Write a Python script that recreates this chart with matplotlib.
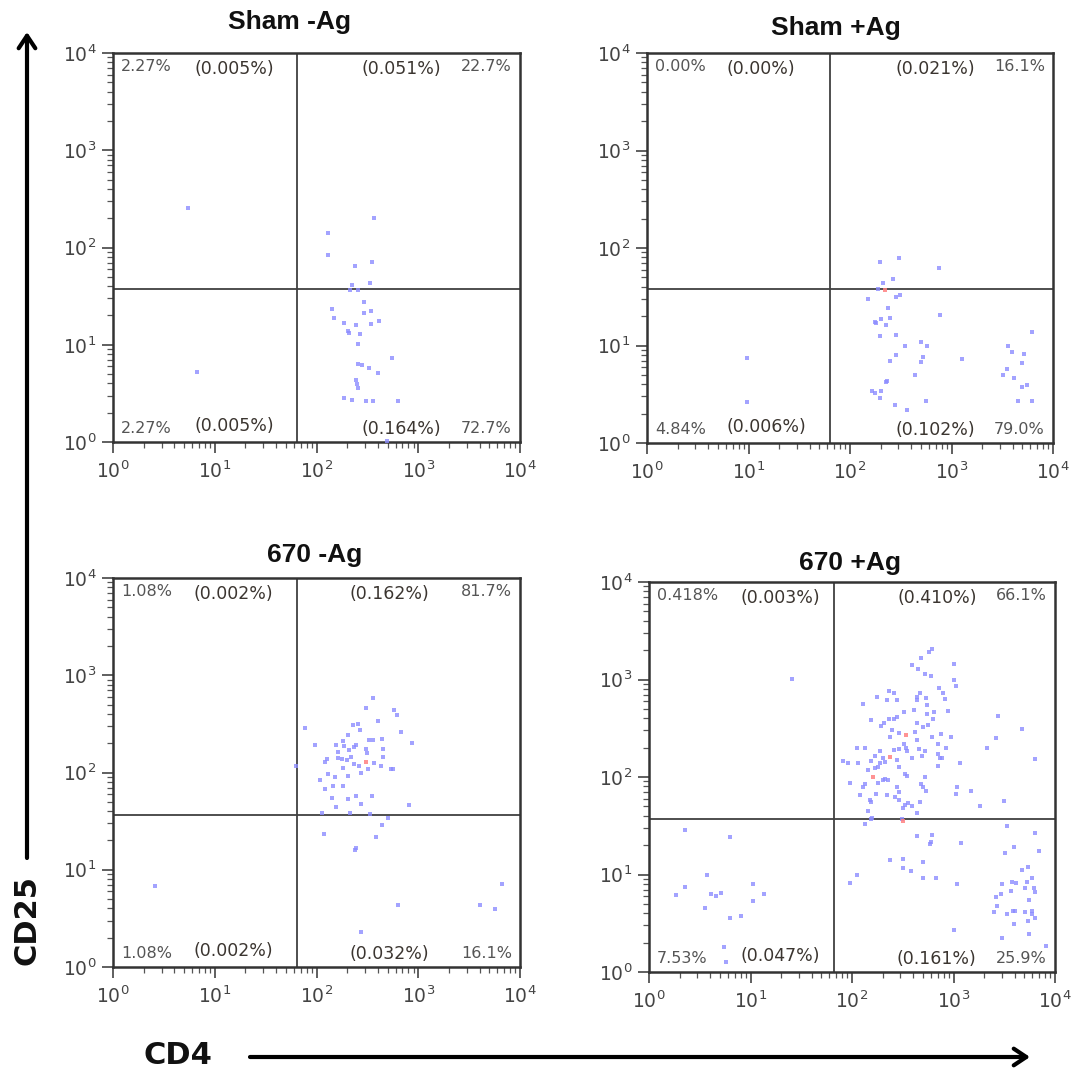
import numpy as np
import matplotlib
matplotlib.use("Agg")
import matplotlib.pyplot as plt
from matplotlib.patches import FancyArrowPatch
from matplotlib.ticker import LogLocator, LogFormatterSciNotation, NullFormatter

# ---- data: event positions, as decades (log10) ----
titles = ["Sham -Ag", "Sham +Ag", "670 -Ag", "670 +Ag"]

# quadrant gates (log10 CD4, log10 CD25)
gate_x = [1.81, 1.80, 1.81, 1.82]
gate_y = [1.57, 1.58, 1.56, 1.57]

# quadrant texts: UL, UL(inner), UR(inner), UR, LL, LL(inner), LR(inner), LR
quad_text = [
    ["2.27%", "(0.005%)", "(0.051%)", "22.7%", "2.27%", "(0.005%)", "(0.164%)", "72.7%"],
    ["0.00%", "(0.00%)", "(0.021%)", "16.1%", "4.84%", "(0.006%)", "(0.102%)", "79.0%"],
    ["1.08%", "(0.002%)", "(0.162%)", "81.7%", "1.08%", "(0.002%)", "(0.032%)", "16.1%"],
    ["0.418%", "(0.003%)", "(0.410%)", "66.1%", "7.53%", "(0.047%)", "(0.161%)", "25.9%"],
]

sham_neg_x = [0.74, 0.83, 2.57, 2.11, 2.11, 2.38, 2.55, 2.53, 2.35, 2.33, 2.41, 2.15, 2.17,
              2.27, 2.47, 2.47, 2.54, 2.39, 2.54, 2.61, 2.31, 2.32, 2.43, 2.41, 2.41, 2.45,
              2.52, 2.60, 2.74, 2.39, 2.40, 2.41, 2.27, 2.35, 2.49, 2.56, 2.80, 2.69]
sham_neg_y = [2.41, 0.715, 2.30, 2.15, 1.92, 1.81, 1.85, 1.64, 1.61, 1.56, 1.56, 1.37, 1.27,
              1.22, 1.44, 1.33, 1.35, 1.20, 1.21, 1.24, 1.14, 1.12, 1.11, 1.01, 0.80, 0.79,
              0.76, 0.71, 0.86, 0.64, 0.60, 0.56, 0.45, 0.43, 0.42, 0.42, 0.42, 0.01]

sham_pos_x = [0.99, 0.99, 2.30, 2.48, 2.88, 2.42, 2.33, 2.28, 2.49, 2.45, 2.18, 2.37, 2.39,
              2.31, 2.26, 2.25, 2.35, 2.89, 2.45, 2.30, 2.54, 2.70, 2.76, 2.45, 2.39, 2.72,
              2.70, 3.10, 2.64, 2.36, 2.35, 2.22, 2.25, 2.31, 2.30, 2.75, 2.44, 2.56, 3.56,
              3.60, 3.71, 3.79, 3.55, 3.51, 3.69, 3.62, 3.69, 3.74, 3.66, 3.79]
sham_pos_y = [0.87, 0.42, 1.86, 1.90, 1.79, 1.68, 1.64, 1.58, 1.52, 1.50, 1.48, 1.38, 1.28,
              1.27, 1.23, 1.24, 1.21, 1.31, 1.11, 1.10, 0.99, 1.04, 0.99, 0.90, 0.84, 0.88,
              0.83, 0.86, 0.70, 0.64, 0.63, 0.53, 0.51, 0.53, 0.46, 0.43, 0.39, 0.34, 1.00,
              0.93, 0.91, 1.14, 0.76, 0.70, 0.82, 0.67, 0.57, 0.60, 0.43, 0.43]

g670_neg_x = [0.41, 1.885, 1.80, 1.99, 2.56, 2.49, 2.76, 2.79, 2.60, 2.36, 2.41, 2.43, 2.83,
              2.31, 2.94, 2.26, 2.19, 2.27, 2.37, 2.39, 2.52, 2.56, 2.64, 2.65, 2.49, 2.50,
              2.32, 2.21, 2.10, 2.08, 2.21, 2.25, 2.30, 2.34, 2.37, 2.42, 2.51, 2.57, 2.63,
              2.65, 2.73, 2.75, 2.26, 2.44, 2.11, 2.18, 2.31, 2.03, 2.08, 2.16, 2.26, 2.15,
              2.31, 2.39, 2.44, 2.55, 2.91, 2.19, 2.05, 2.33, 2.53, 2.70, 2.64, 2.07, 2.58,
              2.39, 2.38, 2.80, 2.44, 3.61, 3.75, 3.82]
g670_neg_y = [0.835, 2.457, 2.07, 2.28, 2.77, 2.66, 2.64, 2.59, 2.53, 2.49, 2.50, 2.44, 2.42,
              2.39, 2.30, 2.32, 2.28, 2.27, 2.26, 2.28, 2.33, 2.33, 2.34, 2.24, 2.24, 2.20,
              2.23, 2.21, 2.14, 2.11, 2.15, 2.14, 2.13, 2.16, 2.09, 2.07, 2.04, 2.10, 2.07,
              2.16, 2.04, 2.04, 2.05, 2.00, 1.98, 1.95, 1.96, 1.92, 1.83, 1.86, 1.86, 1.74,
              1.73, 1.76, 1.68, 1.76, 1.67, 1.65, 1.58, 1.58, 1.57, 1.53, 1.46, 1.37, 1.34,
              1.22, 1.20, 0.64, 0.36, 0.64, 0.60, 0.85]

g670_pos_x = [2.785, 2.76, 2.68, 3.00, 2.59, 2.65, 2.72, 2.78, 3.00, 3.02, 2.86, 2.90, 2.36,
              2.41, 2.25, 2.34, 2.44, 2.67, 2.64, 2.64, 2.73, 2.92, 2.11, 2.74, 2.95, 2.61,
              2.51, 2.74, 2.81, 2.44, 2.41, 2.36, 2.19, 2.32, 2.29, 2.80, 2.64, 2.70, 2.75,
              2.39, 2.46, 2.37, 2.62, 2.88, 2.98, 2.79, 2.64, 2.51, 2.05, 2.13, 2.28, 2.41,
              2.46, 2.53, 2.54, 2.66, 2.72, 2.85, 2.93, 2.23, 2.31, 2.69, 2.59, 2.85, 2.87,
              1.91, 1.96, 2.06, 2.19, 2.28, 2.33, 2.44, 2.26, 2.23, 2.46, 2.89, 3.06, 2.16,
              2.85, 2.31, 2.33, 2.35, 2.52, 2.54, 2.72, 1.98, 2.13, 2.11, 2.26, 2.44, 2.46,
              2.68, 2.70, 2.73, 3.03, 3.02, 2.08, 2.24, 2.34, 2.42, 2.46, 2.18, 2.19, 2.67,
              2.52, 2.55, 2.59, 2.64, 2.16, 2.50, 2.19, 2.49,
              3.44, 3.67, 3.42, 3.33, 3.80, 3.17, 3.50, 3.26,
              2.13, 2.20, 3.53, 3.80, 2.64, 2.79, 2.78, 2.77, 3.07, 3.60, 3.84, 3.51, 2.37,
              2.50, 2.70, 3.73, 3.67, 2.05, 2.50, 2.58, 1.98, 2.70, 2.83, 3.03, 3.77, 3.72,
              3.58, 3.62, 3.48, 3.70, 3.79, 3.80, 3.57, 3.47, 3.42, 3.74, 3.43, 3.40, 3.59,
              3.61, 3.70, 3.77, 3.53, 3.77, 3.80, 3.73, 3.60, 3.74, 3.00, 3.48, 3.91,
              0.35, 0.80, 0.57, 0.35, 0.27, 0.61, 0.66, 0.71, 1.02, 1.13, 1.02, 0.55, 0.80,
              0.91, 0.74, 0.76, 1.41]
g670_pos_y = [3.317, 3.28, 3.22, 3.16, 3.15, 3.11, 3.06, 3.04, 3.00, 2.93, 2.91, 2.86, 2.88,
              2.86, 2.82, 2.79, 2.79, 2.86, 2.82, 2.79, 2.81, 2.80, 2.75, 2.74, 2.68, 2.69,
              2.67, 2.65, 2.67, 2.62, 2.59, 2.59, 2.58, 2.55, 2.52, 2.59, 2.55, 2.51, 2.53,
              2.48, 2.45, 2.41, 2.46, 2.44, 2.41, 2.41, 2.38, 2.34, 2.30, 2.30, 2.27, 2.28,
              2.29, 2.30, 2.27, 2.29, 2.27, 2.34, 2.30, 2.22, 2.19, 2.22, 2.20, 2.24, 2.19,
              2.16, 2.14, 2.14, 2.16, 2.14, 2.15, 2.17, 2.10, 2.09, 2.10, 2.19, 2.14, 2.07,
              2.11, 1.97, 1.98, 1.97, 2.03, 2.01, 2.00, 1.94, 1.93, 1.90, 1.94, 1.90, 1.85,
              1.93, 1.90, 1.86, 1.90, 1.83, 1.82, 1.83, 1.82, 1.80, 1.76, 1.76, 1.74, 1.74,
              1.71, 1.73, 1.70, 1.63, 1.65, 1.68, 1.57, 1.57,
              2.63, 2.49, 2.40, 2.30, 2.18, 1.86, 1.75, 1.70,
              1.52, 1.58, 1.50, 1.43, 1.40, 1.41, 1.33, 1.31, 1.32, 1.28, 1.24, 1.22, 1.15,
              1.16, 1.13, 1.08, 1.05, 1.00, 1.07, 1.04, 0.91, 0.96, 0.96, 0.90, 0.96, 0.92,
              0.92, 0.91, 0.90, 0.86, 0.86, 0.82, 0.83, 0.80, 0.77, 0.74, 0.68, 0.62, 0.63,
              0.63, 0.62, 0.63, 0.59, 0.59, 0.55, 0.52, 0.49, 0.39, 0.43, 0.35, 0.27,
              1.46, 1.38, 1.00, 0.87, 0.79, 0.80, 0.78, 0.81, 0.90, 0.80, 0.73, 0.66, 0.55,
              0.57, 0.26, 0.10, 3.01]

# a few red events (other population overlay)
red_x = [[], [2.34], [2.49], [2.53, 2.37, 2.21, 2.50]]
red_y = [[], [1.57], [2.11], [2.43, 2.21, 2.00, 1.55]]

blue_x = [sham_neg_x, sham_pos_x, g670_neg_x, g670_pos_x]
blue_y = [sham_neg_y, sham_pos_y, g670_neg_y, g670_pos_y]

# ---- layout (pixels of the 1075x1071 picture) ----
W, H = 1075, 1071
boxes = [(113, 53, 520, 442), (647, 53, 1053, 443),
         (113, 578, 520, 967), (649, 582, 1055, 972)]
title_pos = [(289, 22), (836, 28), (315, 555), (850, 563)]
inner_left = [0.20, 0.197, 0.197, 0.225]
inner_right = [0.807, 0.807, 0.777, 0.807]


def px_rect(b):
    l, t, r, bt = b
    return [l / W, 1 - bt / H, (r - l) / W, (bt - t) / H]


fig = plt.figure(figsize=(W / 100, H / 100), dpi=100)
fig.patch.set_facecolor("white")

for i in range(4):
    ax = fig.add_axes(px_rect(boxes[i]))
    ax.set_xscale("log")
    ax.set_yscale("log")
    ax.set_xlim(1, 1e4)
    ax.set_ylim(1, 1e4)

    ax.scatter(np.power(10.0, blue_x[i]), np.power(10.0, blue_y[i]), s=6, marker="s",
               color="#8c8cff", alpha=0.8, linewidths=0, zorder=3)
    if red_x[i]:
        ax.scatter(np.power(10.0, red_x[i]), np.power(10.0, red_y[i]), s=6, marker="s",
                   color="#ff8080", alpha=0.85, linewidths=0, zorder=4)

    # quadrant gate
    ax.axvline(10 ** gate_x[i], color="#404040", lw=1.3, zorder=2)
    ax.axhline(10 ** gate_y[i], color="#404040", lw=1.3, zorder=2)

    t = quad_text[i]
    corner = dict(fontsize=11.5, color="#555555", va="center", zorder=5)
    inner = dict(fontsize=12.5, color="#3b3530", va="center", zorder=5)
    ax.text(0.02, 0.965, t[0], transform=ax.transAxes, ha="left", **corner)
    ax.text(inner_left[i], 0.958, t[1], transform=ax.transAxes, ha="left", **inner)
    ax.text(inner_right[i], 0.958, t[2], transform=ax.transAxes, ha="right", **inner)
    ax.text(0.98, 0.965, t[3], transform=ax.transAxes, ha="right", **corner)
    ax.text(0.02, 0.034, t[4], transform=ax.transAxes, ha="left", **corner)
    ax.text(inner_left[i], 0.042, t[5], transform=ax.transAxes, ha="left", **inner)
    ax.text(inner_right[i], 0.034, t[6], transform=ax.transAxes, ha="right", **inner)
    ax.text(0.98, 0.034, t[7], transform=ax.transAxes, ha="right", **corner)

    for axis in (ax.xaxis, ax.yaxis):
        axis.set_major_locator(LogLocator(base=10, numticks=10))
        axis.set_minor_locator(LogLocator(base=10, subs=np.arange(2, 10), numticks=10))
        axis.set_major_formatter(LogFormatterSciNotation())
        axis.set_minor_formatter(NullFormatter())
    ax.tick_params(which="major", direction="out", length=8, width=1.2, color="#444444",
                   labelsize=13.5, labelcolor="#444444")
    ax.tick_params(which="minor", direction="out", length=4, width=0.9, color="#555555")
    ax.tick_params(axis="x", pad=5)
    ax.tick_params(axis="y", pad=4)
    for sp in ax.spines.values():
        sp.set_linewidth(1.8)
        sp.set_color("#333333")

    tx, ty = title_pos[i]
    fig.text(tx / W, 1 - ty / H, titles[i], ha="center", va="center", fontsize=19,
             fontweight="bold", family="Liberation Sans", color="#111111")

# axis labels with long arrows
fig.text(27 / W, 1 - 920 / H, "CD25", rotation=90, ha="center", va="center",
         fontsize=22, fontweight="bold", color="#111111")
fig.text(178 / W, 1 - 1055 / H, "CD4", ha="center", va="center",
         fontsize=22, fontweight="bold", color="#111111")

arr_y = FancyArrowPatch((27 / W, 1 - 858 / H), (27 / W, 1 - 32 / H),
                        transform=fig.transFigure, arrowstyle="->,head_length=9,head_width=6",
                        lw=3, color="black", shrinkA=0, shrinkB=0)
arr_x = FancyArrowPatch((250 / W, 1 - 1057 / H), (1030 / W, 1 - 1057 / H),
                        transform=fig.transFigure, arrowstyle="->,head_length=9,head_width=6",
                        lw=3, color="black", shrinkA=0, shrinkB=0)
fig.patches.extend([arr_y, arr_x])

fig.savefig("out.png", dpi=100, facecolor="white")
